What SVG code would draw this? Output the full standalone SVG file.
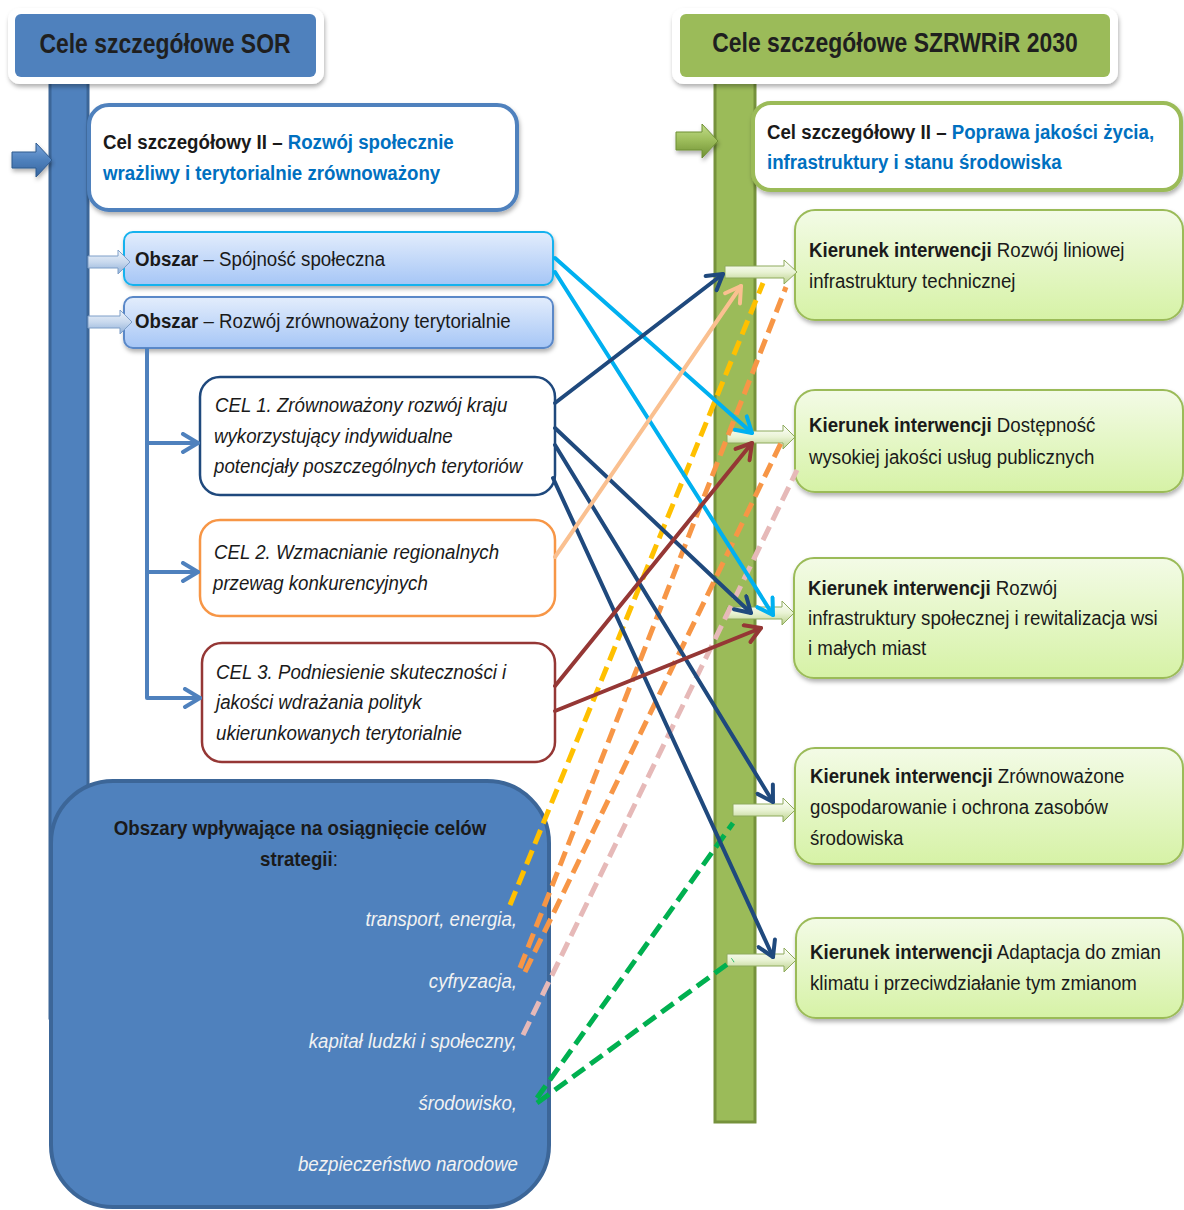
<svg xmlns="http://www.w3.org/2000/svg" width="1184" height="1210" viewBox="0 0 1184 1210">
<style>
text{font-family:"Liberation Sans",Arial,sans-serif;font-size:21px;fill:#1a1a1a}
.hd{font-size:27px;font-weight:bold;fill:#1f1f1f}
.b{font-weight:bold}
.bl{fill:#0070c0;font-weight:bold}
.it{font-style:italic}
.wi{font-style:italic;fill:#f2f2f2}
.kbox{fill:url(#gK);stroke:#9bbb59;stroke-width:2}
.obox{fill:url(#gO);stroke-width:2}
.sarrow{fill:url(#gSA);stroke:#8eaa5c;stroke-width:1}
.barrow{fill:url(#gBA);stroke:#7f9fc8;stroke-width:1}
.ln{fill:none;stroke-width:4;stroke-linecap:round}
.ds{fill:none;stroke-width:5;stroke-dasharray:15 7}
</style>
<defs>
<linearGradient id="gK" x1="0" y1="0" x2="0" y2="1"><stop offset="0" stop-color="#f3fbe6"/><stop offset="1" stop-color="#d6f2a6"/></linearGradient>
<linearGradient id="gO" x1="0" y1="0" x2="0" y2="1"><stop offset="0" stop-color="#e3edfc"/><stop offset="1" stop-color="#a6c6f6"/></linearGradient>
<linearGradient id="gSA" x1="0" y1="0" x2="0" y2="1"><stop offset="0" stop-color="#ffffff"/><stop offset="0.5" stop-color="#e9f3d4"/><stop offset="1" stop-color="#b9cf8a"/></linearGradient>
<linearGradient id="gBA" x1="0" y1="0" x2="0" y2="1"><stop offset="0" stop-color="#f0f5fb"/><stop offset="0.5" stop-color="#c9d9ee"/><stop offset="1" stop-color="#8fb0d8"/></linearGradient>
<linearGradient id="gBlueArr" x1="0" y1="0" x2="0" y2="1"><stop offset="0" stop-color="#7aa6dc"/><stop offset="0.5" stop-color="#4f81bd"/><stop offset="1" stop-color="#35649e"/></linearGradient>
<linearGradient id="gGreenArr" x1="0" y1="0" x2="0" y2="1"><stop offset="0" stop-color="#c3de8a"/><stop offset="0.5" stop-color="#9bbb59"/><stop offset="1" stop-color="#6f9034"/></linearGradient>
<filter id="sh" x="-10%" y="-10%" width="120%" height="130%"><feDropShadow dx="1" dy="3" stdDeviation="2" flood-color="#000" flood-opacity="0.3"/></filter>
<marker id="mC" viewBox="0 0 22 22" refX="19" refY="11" markerWidth="22" markerHeight="22" markerUnits="userSpaceOnUse" orient="auto"><path d="M4,2 L19,11 L4,20" fill="none" stroke="#00b0f0" stroke-width="4" stroke-linecap="round" stroke-linejoin="round"/></marker>
<marker id="mD" viewBox="0 0 22 22" refX="19" refY="11" markerWidth="22" markerHeight="22" markerUnits="userSpaceOnUse" orient="auto"><path d="M4,2 L19,11 L4,20" fill="none" stroke="#1f497d" stroke-width="4" stroke-linecap="round" stroke-linejoin="round"/></marker>
<marker id="mP" viewBox="0 0 22 22" refX="19" refY="11" markerWidth="22" markerHeight="22" markerUnits="userSpaceOnUse" orient="auto"><path d="M4,2 L19,11 L4,20" fill="none" stroke="#fac090" stroke-width="4" stroke-linecap="round" stroke-linejoin="round"/></marker>
<marker id="mR" viewBox="0 0 22 22" refX="19" refY="11" markerWidth="22" markerHeight="22" markerUnits="userSpaceOnUse" orient="auto"><path d="M4,2 L19,11 L4,20" fill="none" stroke="#953735" stroke-width="4" stroke-linecap="round" stroke-linejoin="round"/></marker>
<marker id="mB" viewBox="0 0 22 22" refX="19" refY="11" markerWidth="22" markerHeight="22" markerUnits="userSpaceOnUse" orient="auto"><path d="M4,2 L19,11 L4,20" fill="none" stroke="#4f81bd" stroke-width="4" stroke-linecap="round" stroke-linejoin="round"/></marker>
</defs>
<rect width="1184" height="1210" fill="#ffffff"/>

<g id="sor-bar"><rect x="50" y="78" width="38" height="940" fill="#4f81bd" stroke="#3c6698" stroke-width="3"/></g>
<g id="szr-bar"><rect x="715" y="78" width="40" height="1044" fill="#9bbb59" stroke="#76923c" stroke-width="3"/></g>

<g id="sor-header">
<rect x="8" y="8" width="316" height="76" rx="12" fill="#ffffff" filter="url(#sh)"/>
<rect x="15" y="14" width="301" height="63" rx="6" fill="#4f81bd"/>
<text class="hd" transform="translate(165,53) scale(0.85,1)" text-anchor="middle">Cele szczegółowe SOR</text>
</g>
<g id="szr-header">
<rect x="672" y="8" width="446" height="76" rx="12" fill="#ffffff" filter="url(#sh)"/>
<rect x="680" y="14" width="430" height="63" rx="6" fill="#9bbb59"/>
<text class="hd" transform="translate(895,52) scale(0.85,1)" text-anchor="middle">Cele szczegółowe SZRWRiR 2030</text>
</g>

<g id="sor-arrow"><path d="M12,152 L36,152 L36,143 L52,160 L36,177 L36,168 L12,168 Z" fill="url(#gBlueArr)" stroke="#2f5a8e" stroke-width="1" filter="url(#sh)"/></g>
<g id="szr-arrow"><path d="M676,132 L702,132 L702,124 L718,141 L702,158 L702,150 L676,150 Z" fill="url(#gGreenArr)" stroke="#6f9034" stroke-width="1" filter="url(#sh)"/></g>

<g id="cel-sor">
<rect x="89" y="105" width="428" height="105" rx="20" fill="#ffffff" stroke="#4f81bd" stroke-width="4" filter="url(#sh)"/>
<text transform="translate(103,149) scale(0.89,1)"><tspan class="b">Cel szczegółowy II – </tspan><tspan class="bl">Rozwój społecznie</tspan></text>
<text class="bl" transform="translate(103,180) scale(0.89,1)">wrażliwy i terytorialnie zrównoważony</text>
</g>

<g id="cel-szr">
<rect x="753" y="103" width="428" height="87" rx="18" fill="#ffffff" stroke="#9bbb59" stroke-width="4" filter="url(#sh)"/>
<text transform="translate(767,139) scale(0.89,1)"><tspan class="b">Cel szczegółowy II – </tspan><tspan class="bl">Poprawa jakości życia,</tspan></text>
<text class="bl" transform="translate(767,169) scale(0.89,1)">infrastruktury i stanu środowiska</text>
</g>

<g id="obszar1">
<rect class="obox" x="124" y="232" width="429" height="53" rx="9" stroke="#19b2ee" filter="url(#sh)"/>
<text transform="translate(135,266) scale(0.89,1)"><tspan class="b">Obszar</tspan> – Spójność społeczna</text>
</g>
<g id="obszar2">
<rect class="obox" x="124" y="297" width="429" height="51" rx="9" stroke="#5a88c8" filter="url(#sh)"/>
<text transform="translate(135,328) scale(0.89,1)"><tspan class="b">Obszar</tspan> – Rozwój zrównoważony terytorialnie</text>
</g>
<g id="obszar-arrows">
<path class="barrow" d="M88,256 L118,256 L118,250 L130,262 L118,274 L118,268 L88,268 Z"/>
<path class="barrow" d="M88,316 L120,316 L120,310 L132,322 L120,334 L120,328 L88,328 Z"/>
</g>

<g id="cel1">
<rect x="200" y="377" width="355" height="118" rx="20" fill="#ffffff" stroke="#1f497d" stroke-width="2.5"/>
<text class="it" transform="translate(215,412) scale(0.89,1)">CEL 1. Zrównoważony rozwój kraju</text>
<text class="it" transform="translate(214,443) scale(0.89,1)">wykorzystujący indywidualne</text>
<text class="it" transform="translate(214,473) scale(0.89,1)">potencjały poszczególnych terytoriów</text>
</g>
<g id="cel2">
<rect x="200" y="520" width="355" height="96" rx="20" fill="#ffffff" stroke="#f79646" stroke-width="2.5"/>
<text class="it" transform="translate(214,559) scale(0.89,1)">CEL 2. Wzmacnianie regionalnych</text>
<text class="it" transform="translate(213,590) scale(0.89,1)">przewag konkurencyjnych</text>
</g>
<g id="cel3">
<rect x="202" y="643" width="353" height="119" rx="20" fill="#ffffff" stroke="#953735" stroke-width="2.5"/>
<text class="it" transform="translate(216,679) scale(0.89,1)">CEL 3. Podniesienie skuteczności i</text>
<text class="it" transform="translate(216,709) scale(0.89,1)">jakości wdrażania polityk</text>
<text class="it" transform="translate(216,740) scale(0.89,1)">ukierunkowanych terytorialnie</text>
</g>

<g id="obszary-box">
<rect x="51" y="781" width="498" height="426" rx="62" fill="#4f81bd" stroke="#3c6698" stroke-width="4"/>
<text class="b" transform="translate(300,835) scale(0.89,1)" text-anchor="middle">Obszary wpływające na osiągnięcie celów</text>
<text transform="translate(299,866) scale(0.89,1)" text-anchor="middle"><tspan class="b">strategii</tspan>:</text>
<text class="wi" transform="translate(517,926) scale(0.89,1)" text-anchor="end">transport, energia,</text>
<text class="wi" transform="translate(517,988) scale(0.89,1)" text-anchor="end">cyfryzacja,</text>
<text class="wi" transform="translate(517,1048) scale(0.89,1)" text-anchor="end">kapitał ludzki i społeczny,</text>
<text class="wi" transform="translate(517,1110) scale(0.89,1)" text-anchor="end">środowisko,</text>
<text class="wi" transform="translate(518,1171) scale(0.89,1)" text-anchor="end">bezpieczeństwo narodowe</text>
</g>

<g id="k1">
<rect class="kbox" x="795" y="210" width="388" height="110" rx="20" filter="url(#sh)"/>
<text transform="translate(809,257) scale(0.89,1)"><tspan class="b">Kierunek interwencji</tspan> Rozwój liniowej</text>
<text transform="translate(809,288) scale(0.89,1)">infrastruktury technicznej</text>
</g>
<g id="k2">
<rect class="kbox" x="795" y="390" width="388" height="102" rx="20" filter="url(#sh)"/>
<text transform="translate(809,432) scale(0.89,1)"><tspan class="b">Kierunek interwencji</tspan> Dostępność</text>
<text transform="translate(809,464) scale(0.89,1)">wysokiej jakości usług publicznych</text>
</g>
<g id="k3">
<rect class="kbox" x="794" y="558" width="389" height="120" rx="20" filter="url(#sh)"/>
<text transform="translate(808,595) scale(0.89,1)"><tspan class="b">Kierunek interwencji</tspan> Rozwój</text>
<text transform="translate(808,625) scale(0.89,1)">infrastruktury społecznej i rewitalizacja wsi</text>
<text transform="translate(808,655) scale(0.89,1)">i małych miast</text>
</g>
<g id="k4">
<rect class="kbox" x="795" y="748" width="388" height="116" rx="20" filter="url(#sh)"/>
<text transform="translate(810,783) scale(0.89,1)"><tspan class="b">Kierunek interwencji</tspan> Zrównoważone</text>
<text transform="translate(810,814) scale(0.89,1)">gospodarowanie i ochrona zasobów</text>
<text transform="translate(810,845) scale(0.89,1)">środowiska</text>
</g>
<g id="k5">
<rect class="kbox" x="796" y="918" width="387" height="100" rx="20" filter="url(#sh)"/>
<text transform="translate(810,959) scale(0.89,1)"><tspan class="b">Kierunek interwencji</tspan> Adaptacja do zmian</text>
<text transform="translate(810,990) scale(0.89,1)">klimatu i przeciwdziałanie tym zmianom</text>
</g>

<g id="bar-arrows">
<path class="sarrow" d="M725,266 L784,266 L784,260 L797,272 L784,284 L784,278 L725,278 Z"/>
<path class="sarrow" d="M727,431 L783,431 L783,425 L795,437 L783,449 L783,443 L727,443 Z"/>
<path class="sarrow" d="M727,607 L782,607 L782,601 L794,613 L782,625 L782,619 L727,619 Z"/>
<path class="sarrow" d="M733,804 L783,804 L783,798 L795,810 L783,822 L783,816 L733,816 Z"/>
<path class="sarrow" d="M727,954 L784,954 L784,948 L796,960 L784,972 L784,966 L727,966 Z"/>
</g>

<g id="connectors">
<path d="M147,348 L147,698" fill="none" stroke="#4f81bd" stroke-width="4"/>
<path class="ln" d="M147,443 L198,443" stroke="#4f81bd" marker-end="url(#mB)"/>
<path class="ln" d="M147,572 L198,572" stroke="#4f81bd" marker-end="url(#mB)"/>
<path class="ln" d="M147,698 L200,698" stroke="#4f81bd" marker-end="url(#mB)"/>

<path class="ds" d="M510,905 L763,283" stroke="#ffc000"/>
<path class="ds" d="M520,968 L786,287" stroke="#f79646"/>
<path class="ds" d="M525,972 L781,443" stroke="#f79646"/>
<path class="ds" d="M523,1035 L797,470" stroke="#e6b9b8"/>
<path class="ds" d="M537,1098 L733,823" stroke="#00b050"/>
<path class="ds" d="M537,1103 L733,960" stroke="#00b050"/>

<path class="ln" d="M555,258 L752,433" stroke="#00b0f0" marker-end="url(#mC)"/>
<path class="ln" d="M555,272 L773,615" stroke="#00b0f0" marker-end="url(#mC)"/>
<path class="ln" d="M555,403 L723,274" stroke="#1f497d" marker-end="url(#mD)"/>
<path class="ln" d="M555,428 L751,613" stroke="#1f497d" marker-end="url(#mD)"/>
<path class="ln" d="M555,445 L773,802" stroke="#1f497d" marker-end="url(#mD)"/>
<path class="ln" d="M553,478 L773,957" stroke="#1f497d" marker-end="url(#mD)"/>
<path class="ln" d="M555,557 L741,286" stroke="#fac090" marker-end="url(#mP)"/>
<path class="ln" d="M555,686 L752,443" stroke="#953735" marker-end="url(#mR)"/>
<path class="ln" d="M555,711 L761,628" stroke="#953735" marker-end="url(#mR)"/>
</g>
</svg>
